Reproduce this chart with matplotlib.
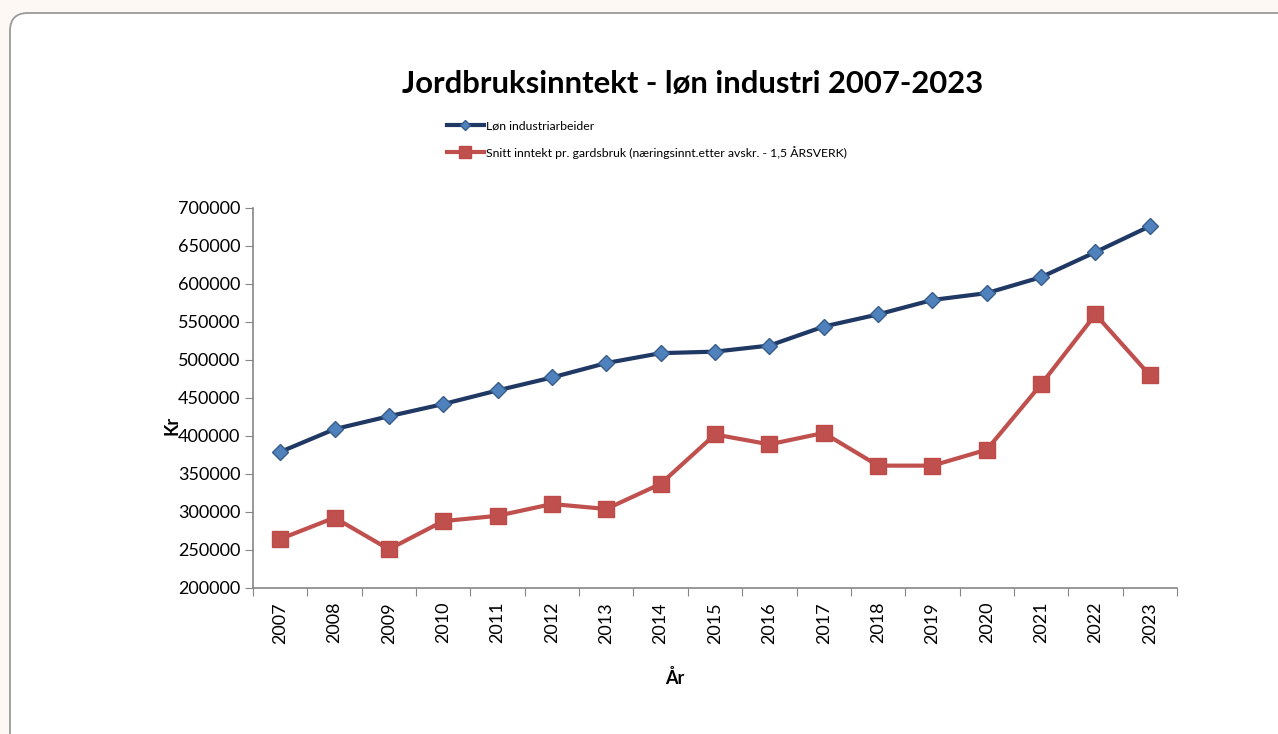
import matplotlib.pyplot as plt
from matplotlib.patches import FancyBboxPatch
import numpy as np

plt.rcParams['font.family'] = ['Lato', 'DejaVu Sans']

years = [str(y) for y in range(2007, 2024)]
lonn_industri = [379000, 409000, 426000, 442000, 460000, 477000, 496000, 509000, 511000,
                 519000, 544000, 560000, 579000, 588000, 609000, 642000, 676000]
snitt_inntekt = [264500, 292500, 251000, 288000, 295000, 310500, 304000, 337000, 402000,
                 389000, 404000, 361000, 361000, 382000, 468000, 560000, 480000]
y_ticks = [200000, 250000, 300000, 350000, 400000, 450000, 500000, 550000, 600000, 650000, 700000]

W, H = 1278, 734
fig = plt.figure(figsize=(W / 100, H / 100), dpi=100)
fig.patch.set_facecolor('#fdf8f3')

# rounded white card behind the chart
card = FancyBboxPatch((10 / W, -0.1), 1.2, 1 - 13 / H + 0.1,
                      boxstyle='round,pad=0,rounding_size=0.014',
                      transform=fig.transFigure, facecolor='white',
                      edgecolor='#9a9a9a', linewidth=1.3, mutation_aspect=W / H, zorder=-5)
fig.patches.append(card)

ax = fig.add_axes([253 / W, 1 - 588 / H, (1177 - 253) / W, (588 - 208) / H])
ax.set_facecolor('none')

x = np.arange(len(years))
l1, = ax.plot(x, lonn_industri, color='#1f3864', linewidth=3, marker='D', markersize=8,
              markerfacecolor='#4f81bd', markeredgecolor='#385d8a', markeredgewidth=1,
              label='Løn industriarbeider')
l2, = ax.plot(x, snitt_inntekt, color='#c0504d', linewidth=3, marker='s', markersize=11.5,
              markerfacecolor='#c0504d', markeredgecolor='#be4b48',
              label='Snitt inntekt pr. gardsbruk (næringsinnt.etter avskr. - 1,5 ÅRSVERK)')

ax.set_xlim(-0.5, len(years) - 0.5)
ax.set_ylim(200000, 700000)
ax.set_yticks(y_ticks)
ax.set_yticklabels([str(v) for v in y_ticks], fontsize=13)

# ticks on the category boundaries, labels at the centres
ax.set_xticks(np.arange(len(years) + 1) - 0.5)
ax.set_xticklabels([])
ax.set_xticks(x, minor=True)
ax.set_xticklabels(years, minor=True, rotation=90, fontsize=13)
ax.tick_params(axis='x', which='minor', length=0, pad=10)
ax.tick_params(axis='both', which='major', length=6, color='#868686', direction='out')
ax.tick_params(axis='y', pad=3)

for s in ['top', 'right']:
    ax.spines[s].set_visible(False)
for s in ['left', 'bottom']:
    ax.spines[s].set_color('#868686')
    ax.spines[s].set_linewidth(1.2)

ax.set_xlabel('År', fontsize=13, fontweight='bold')
ax.xaxis.set_label_coords((675 - 253) / 924, -(678 - 588) / 380)
ax.xaxis.label.set_va('center')
ax.set_ylabel('Kr', fontsize=13, fontweight='bold')
ax.yaxis.set_label_coords(-(253 - 172) / 924, (588 - 425) / 380)
ax.yaxis.label.set_va('center')

fig.text(693 / W, 1 - 84 / H, 'Jordbruksinntekt - løn industri 2007-2023',
         ha='center', va='center', fontsize=22.3, fontweight='bold')

fig.legend(handles=[l1, l2], loc='upper left', bbox_to_anchor=(436 / W, 1 - 109 / H),
           frameon=False, fontsize=8.8, handlelength=3.0, handletextpad=0.2,
           labelspacing=1.2, markerscale=0.7)

fig.savefig('out.png', dpi=100)
